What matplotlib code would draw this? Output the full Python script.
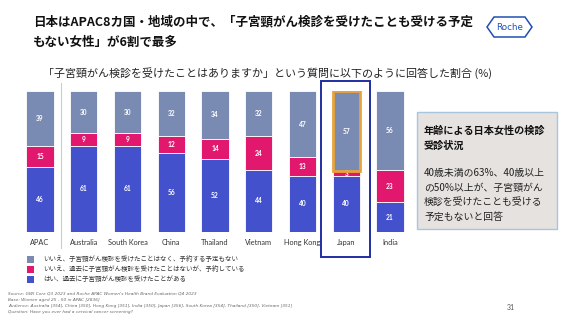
import matplotlib
matplotlib.use("Agg")
import matplotlib.pyplot as plt
from matplotlib.patches import Rectangle, Polygon
import numpy as np

plt.rcParams['font.family'] = ['Noto Sans CJK JP', 'DejaVu Sans']

categories = ["APAC", "Australia", "South Korea", "China", "Thailand", "Vietnam", "Hong Kong", "Japan", "India"]
yes_screened = [46, 61, 61, 56, 52, 44, 40, 40, 21]
no_but_booked = [15, 9, 9, 12, 14, 24, 13, 3, 23]
no_no_plan = [39, 30, 30, 32, 34, 32, 47, 57, 56]

legend_labels = [
    "いいえ、子宮頸がん検診を受けたことはなく、予約する予定もない",
    "いいえ、過去に子宮頸がん検診を受けたことはないが、予約している",
    "はい、過去に子宮頸がん検診を受けたことがある",
]

c_grey = "#7a8bb3"
c_pink = "#e2186f"
c_blue = "#4352cc"

W, H = 568, 321
fig = plt.figure(figsize=(W/100, H/100), dpi=100)
fig.patch.set_facecolor("white")

def fx(px): return px / W
def fy(py): return 1 - py / H

# bar axes
ax = fig.add_axes([fx(18.1), fy(232), 393.75 / W, 141 / H])
x = np.arange(len(categories))
bw = 0.62
ax.bar(x, yes_screened, bw, color=c_blue, edgecolor="white", linewidth=0.6)
ax.bar(x, no_but_booked, bw, bottom=yes_screened, color=c_pink, edgecolor="white", linewidth=0.6)
bottom3 = np.array(yes_screened) + np.array(no_but_booked)
ax.bar(x, no_no_plan, bw, bottom=bottom3, color=c_grey, edgecolor="white", linewidth=0.6)

for i in range(len(categories)):
    segs = [(0, yes_screened[i]), (yes_screened[i], no_but_booked[i]), (bottom3[i], no_no_plan[i])]
    for b, h in segs:
        yy = b + h / 2
        if h < 5:
            yy = b + h / 2 - 0.3
        ax.text(x[i], yy, str(h), ha="center", va="center", color="white",
                fontsize=4.8, fontweight="bold", family=["Lato", "DejaVu Sans"])

ax.set_xlim(-0.5, len(categories) - 0.5)
ax.set_ylim(0, 100)
ax.set_xticks(x)
ax.set_xticklabels(categories, fontsize=5.3, color="#333333", family=["Lato", "DejaVu Sans"])
ax.tick_params(axis="x", length=0, pad=5)
ax.set_yticks([])
for s in ax.spines.values():
    s.set_visible(False)
ax.patch.set_alpha(0)

# Orange highlight on Japan's grey segment
ji = categories.index("Japan")
ax.add_patch(Rectangle((x[ji] - bw / 2, bottom3[ji]), bw, no_no_plan[ji], fill=False,
                       edgecolor="#e8a33a", linewidth=2.0, zorder=5))

# overlay axes in pixel coordinates for decorations
ov = fig.add_axes([0, 0, 1, 1])
ov.set_xlim(0, W)
ov.set_ylim(H, 0)
ov.axis("off")
ov.patch.set_alpha(0)

# separator line
ov.plot([61, 61], [83, 248], color="#c8ccd6", linewidth=0.8)
# Japan navy box
ov.add_patch(Rectangle((321, 81), 49, 176, fill=False, edgecolor="#1f2fa0", linewidth=1.4))

# Title
ov.text(33, 22, "日本はAPAC8カ国・地域の中で、「子宮頸がん検診を受けたことも受ける予定", fontsize=9,
        fontweight="bold", va="center", ha="left", color="#111111")
ov.text(33, 42, "もない女性」が6割で最多", fontsize=9, fontweight="bold", va="center", ha="left",
        color="#111111")

# Roche logo
hx = [487, 494, 525, 532, 525, 494]
hy = [27, 17, 17, 27, 37, 37]
ov.add_patch(Polygon(list(zip(hx, hy)), closed=True, fill=False, edgecolor="#1f4fb5", linewidth=1.1))
ov.text(509.5, 27, "Roche", fontsize=6.3, color="#1f4fb5", ha="center", va="center",
        family=["Liberation Sans Narrow", "DejaVu Sans"])

# subtitle
ov.text(43, 73, "「子宮頸がん検診を受けたことはありますか」という質問に以下のように回答した割合 (%)",
        fontsize=7.9, ha="left", va="center", color="#222222")

# text box
ov.add_patch(Rectangle((417, 112), 140, 117, facecolor="#e6e2df", edgecolor="#a8c6de", linewidth=1.0))
ov.text(424, 131, "年齢による日本女性の検診", fontsize=7.3, fontweight="bold", va="center", ha="left", color="#111111")
ov.text(424, 146, "受診状況", fontsize=7.3, fontweight="bold", va="center", ha="left", color="#111111")
body = ["40歳未満の63%、40歳以上", "の50%以上が、子宮頸がん", "検診を受けたことも受ける", "予定もないと回答"]
for k, line in enumerate(body):
    ov.text(424, 173 + k * 14.5, line, fontsize=7.1, va="center", ha="left", color="#222222")

# legend
leg_colors = [c_grey, c_pink, c_blue]
for k, (lab, col) in enumerate(zip(legend_labels, leg_colors)):
    yy = 259 + k * 10
    ov.add_patch(Rectangle((27, yy - 3.5), 7, 7, facecolor=col, edgecolor="none"))
    ov.text(43, yy, lab, fontsize=4.7, va="center", ha="left", color="#333333")

# footnotes
notes = [
    "Source: GWI Core Q3 2023 and Roche APAC Women's Health Brand Evaluation Q4 2023",
    "Base: Women aged 25 - 50 in APAC [2836]",
    "Audience: Australia [354], China [350], Hong Kong [351], India [350], Japan [356], South Korea [354], Thailand [350], Vietnam [351]",
    "Question: Have you ever had a cervical cancer screening?",
]
for k, n in enumerate(notes):
    ov.text(8, 293.5 + k * 6.3, n, fontsize=3.05, style="italic", va="center", ha="left",
            color="#666666", family=["DejaVu Sans"])

ov.text(507, 308, "31", fontsize=5, va="center", ha="left", color="#555555", family=["Lato", "DejaVu Sans"])

fig.savefig("out.png", dpi=100, facecolor="white")
